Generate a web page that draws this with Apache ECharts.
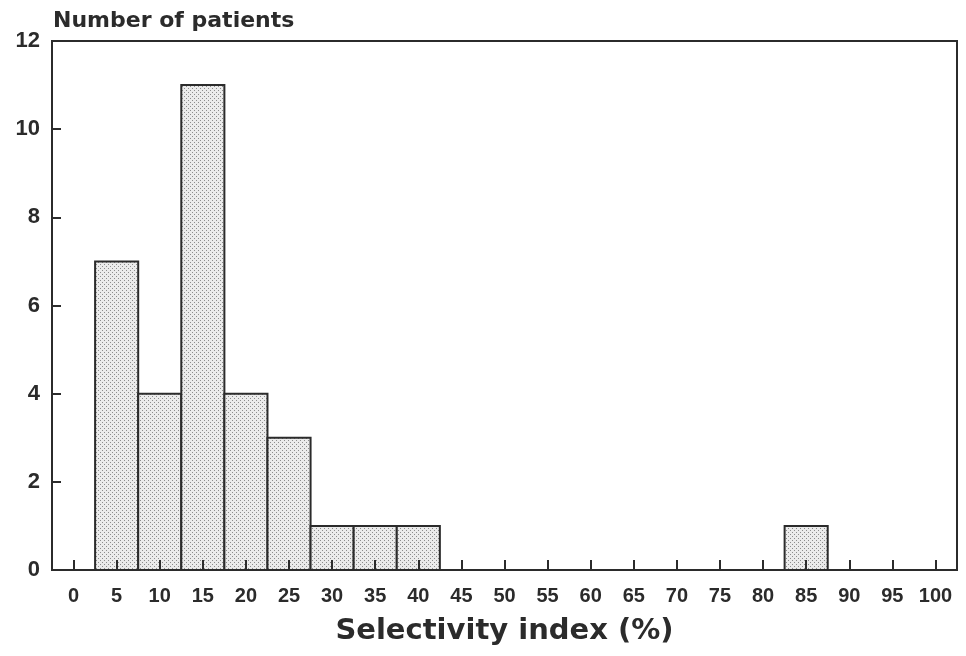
<!DOCTYPE html>
<html>
<head>
<meta charset="utf-8">
<script src="https://cdn.jsdelivr.net/npm/echarts@6/dist/echarts.min.js"></script>
<style>html,body{margin:0;padding:0;background:#fff;}#c{width:966px;height:656px;}</style>
</head>
<body>
<div id="c"></div>
<script>
// Data
const binCenters = [5, 10, 15, 20, 25, 30, 35, 40, 85];
const counts = [7, 4, 11, 4, 3, 1, 1, 1, 1];
const binWidth = 5;
const xTicks = [0,5,10,15,20,25,30,35,40,45,50,55,60,65,70,75,80,85,90,95,100];
const yTicks = [0,2,4,6,8,10,12];
const yTitle = 'Number of patients';
const xTitle = 'Selectivity index (%)';

// stipple pattern
const pc = document.createElement('canvas');
pc.width = 4; pc.height = 4;
const g = pc.getContext('2d');
g.fillStyle = '#ebebeb'; g.fillRect(0,0,4,4);
g.fillStyle = '#8c8c8c'; g.fillRect(0,0,1,1); g.fillRect(2,2,1,1);
const pattern = { image: pc, repeat: 'repeat' };

const chart = echarts.init(document.getElementById('c'));
const ink = '#2b2b2b';
chart.setOption({
  animation: false,
  backgroundColor: '#fff',
  title: {
    text: yTitle, left: 48, top: 5,
    textStyle: { fontFamily: 'DejaVu Sans', fontWeight: 'bold', fontSize: 22, color: ink }
  },
  grid: { left: 52, right: 9, top: 41, bottom: 86, show: true, borderColor: ink, borderWidth: 2, backgroundColor: 'transparent' },
  xAxis: {
    type: 'value', min: -2.5, max: 102.5, z: 5,
    name: xTitle, nameLocation: 'middle', nameGap: 47,
    nameTextStyle: { fontFamily: 'DejaVu Sans', fontWeight: 'bold', fontSize: 29, color: ink },
    axisLine: { show: true, onZero: false, lineStyle: { color: ink, width: 2 } },
    axisTick: { show: true, inside: true, length: 10, customValues: xTicks, lineStyle: { color: ink, width: 2 } },
    axisLabel: { customValues: xTicks, margin: 16, fontFamily: 'Liberation Sans', fontWeight: 'bold', fontSize: 20, color: ink,
      formatter: v => String(Math.round(v)) },
    splitLine: { show: false }
  },
  yAxis: {
    type: 'value', min: 0, max: 12, interval: 2, z: 5,
    axisLine: { show: true, onZero: false, lineStyle: { color: ink, width: 2 } },
    axisTick: { show: true, inside: true, length: 9, lineStyle: { color: ink, width: 2 } },
    axisLabel: { margin: 12, fontFamily: 'Liberation Sans', fontWeight: 'bold', fontSize: 22, color: ink,
      formatter: v => yTicks.includes(v) ? String(v) : '' },
    splitLine: { show: false }
  },
  series: [{
    type: 'custom',
    z: 1,
    data: binCenters.map((c, i) => [c, counts[i]]),
    renderItem: function (params, api) {
      const c = api.value(0), v = api.value(1);
      const p0 = api.coord([c - binWidth / 2, v]);
      const p1 = api.coord([c + binWidth / 2, 0]);
      return {
        type: 'rect',
        shape: { x: p0[0], y: p0[1], width: p1[0] - p0[0], height: p1[1] - p0[1] },
        style: { fill: pattern, stroke: ink, lineWidth: 2 }
      };
    }
  }]
});
</script>
</body>
</html>
